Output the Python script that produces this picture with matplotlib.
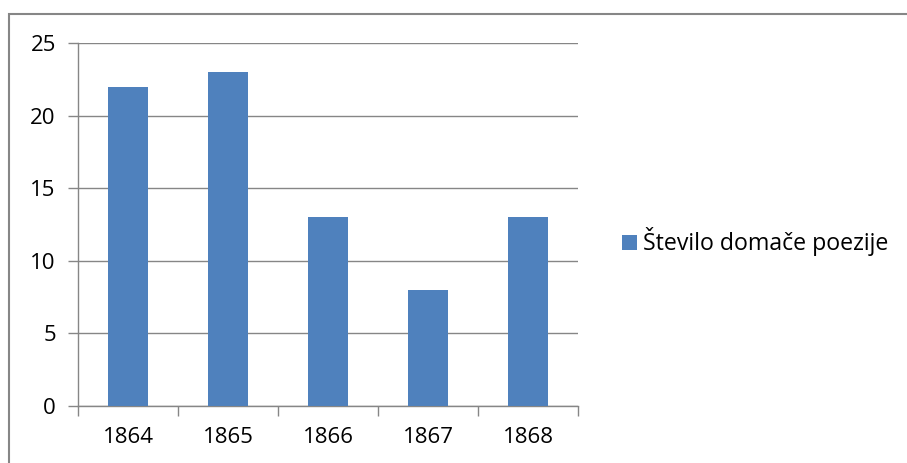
import matplotlib
matplotlib.use("Agg")
import matplotlib.pyplot as plt
from matplotlib.patches import Rectangle

categories = ["1864", "1865", "1866", "1867", "1868"]
values = [22, 23, 13, 8, 13]
series_name = "Število domače poezije"
yticks = [0, 5, 10, 15, 20, 25]

plt.rcParams['font.family'] = ['Open Sans', 'DejaVu Sans']

W, H = 907, 463
fig = plt.figure(figsize=(W/100, H/100), dpi=100)
ax = fig.add_axes([78/W, (H-406)/H, 500/W, (406-43)/H])

gray = '#868686'
x = list(range(len(categories)))
bars = ax.bar(x, values, width=0.4, color='#4F81BD', zorder=3, label=series_name)
ax.set_xlim(-0.5, len(categories)-0.5)
ax.set_ylim(0, 25)
ax.set_yticks(yticks)
ax.set_yticklabels([str(v) for v in yticks])
ax.yaxis.grid(True, color=gray, linewidth=1)
ax.set_axisbelow(True)
ax.set_xticks([i - 0.5 for i in range(len(categories)+1)], minor=False)
ax.set_xticklabels([])
ax.set_xticks(x, minor=True)
ax.set_xticklabels(categories, minor=True)
ax.tick_params(axis='x', which='major', length=7, color=gray, width=1, direction='out')
ax.tick_params(axis='x', which='minor', length=0, pad=15, labelsize=16)
ax.tick_params(axis='y', length=7, color=gray, width=1, pad=9, labelsize=16)
for s in ['top', 'right']:
    ax.spines[s].set_visible(False)
for s in ['left', 'bottom']:
    ax.spines[s].set_color(gray)
    ax.spines[s].set_linewidth(1)

fig.legend(handles=[bars], labels=[series_name], loc='center left',
           bbox_to_anchor=(601/W, (H-242)/H), frameon=False, fontsize=16.7,
           handlelength=0.65, handleheight=0.65, handletextpad=0.25)

fig.patches.append(Rectangle((9/W, -0.1), 1.0, (H-13.5)/H + 0.1,
                             transform=fig.transFigure, fill=False,
                             edgecolor=gray, linewidth=1.5))
fig.savefig("out.png", dpi=100)
